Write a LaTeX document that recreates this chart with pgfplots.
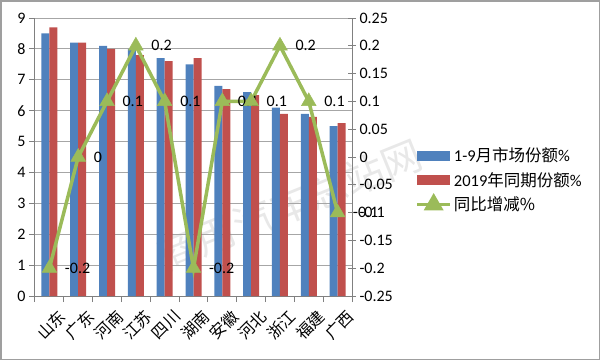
\documentclass[border=0pt]{standalone}
\usepackage{pgfplots}
\pgfplotsset{compat=1.18}
\usepackage{fontspec}
\setmainfont{Carlito}
\newfontfamily\cjk{Noto Sans CJK SC}
\definecolor{cblue}{HTML}{4F81BD}
\definecolor{cred}{HTML}{C0504D}
\definecolor{cgreen}{HTML}{9BBB59}
\begin{document}
\begin{tikzpicture}
\path[use as bounding box] (0pt,0pt) rectangle (600pt,360pt);
\draw[gray!75, line width=1.5pt] (0.75pt,0.75pt) rectangle (599.25pt,359.25pt);
\node[rotate=22, text=gray!18, font=\cjk\fontsize{40}{44}\selectfont] at (290pt,155pt) {商用汽车总站网};
\begin{axis}[
  at={(35pt,64pt)}, anchor=south west, scale only axis,
  width=317pt, height=278pt,
  xmin=-0.5, xmax=10.5, ymin=0, ymax=9,
  ytick={0,1,...,9},
  xtick={-0.5,0.5,...,10.5},
  x tick label as interval,
  xticklabels={山东,广东,河南,江苏,四川,湖南,安徽,河北,浙江,福建,广西},
  xticklabel style={font=\cjk\fontsize{16}{18}\selectfont, rotate=45, anchor=north east, inner sep=1pt, yshift=-9pt, xshift=2pt},
  yticklabel style={font=\fontsize{16}{18}\selectfont},
  /pgf/number format/assume math mode=true,
  axis x line*=bottom, axis y line*=left,
  axis line style={gray, line width=1pt},
  tick style={gray, line width=1pt},
  tick align=outside, major tick length=6pt,
  ymajorgrids, grid style={gray!70, line width=0.9pt},
  ybar=0pt, bar width=8pt,
]
\addplot[fill=cblue, draw=none] coordinates {(0,8.5) (1,8.2) (2,8.1) (3,8.0) (4,7.7) (5,7.5) (6,6.8) (7,6.6) (8,6.1) (9,5.9) (10,5.5)};
\addplot[fill=cred, draw=none] coordinates {(0,8.7) (1,8.2) (2,8.0) (3,7.8) (4,7.6) (5,7.7) (6,6.7) (7,6.5) (8,5.9) (9,5.8) (10,5.6)};
\end{axis}
\begin{axis}[
  at={(35pt,64pt)}, anchor=south west, scale only axis,
  width=317pt, height=278pt,
  xmin=-0.5, xmax=10.5, ymin=-0.25, ymax=0.25,
  axis y line*=right, axis x line=none,
  ytick={-0.25,-0.2,-0.15,-0.1,-0.05,0,0.05,0.1,0.15,0.2,0.25},
  yticklabels={-0.25,-0.2,-0.15,-0.1,-0.05,0,0.05,0.1,0.15,0.2,0.25},
  yticklabel style={font=\fontsize{16}{18}\selectfont},
  axis line style={gray, line width=1pt},
  tick style={gray, line width=1pt},
  tick align=center, major tick length=8pt,
  clip=false,
  legend style={at={(1.19,0.417)}, anchor=west, draw=none, fill=none,
    font=\fontsize{16.5}{18}\selectfont, row sep=5pt, cells={anchor=west}},
]
\addlegendimage{fill=cblue, draw=none, legend image code/.code={\fill[cblue] (0pt,-5pt) rectangle (33pt,5pt);}}
\addlegendentry{1-9{\cjk 月市场份额}\%}
\addlegendimage{fill=cred, draw=none, legend image code/.code={\fill[cred] (0pt,-5pt) rectangle (33pt,5pt);}}
\addlegendentry{2019{\cjk 年同期份额}\%}
\addplot[cgreen, line width=3.5pt, mark=triangle*, mark size=8.5pt,
  mark options={fill=cgreen, draw=cgreen, line width=0.5pt},
  point meta=explicit symbolic,
  nodes near coords, nodes near coords style={anchor=west, xshift=12pt, text=black, font=\fontsize{16}{18}\selectfont},
  legend image code/.code={\draw[cgreen, line width=3.5pt] (0pt,0pt) -- (33pt,0pt); \fill[cgreen] (16.5pt,0pt) ++(90:8pt) -- ++(-120:13.9pt) -- ++(0:13.9pt) -- cycle;}
] coordinates {(0,-0.2) [-0.2] (1,0) [0] (2,0.1) [0.1] (3,0.2) [0.2] (4,0.1) [0.1] (5,-0.2) [-0.2] (6,0.1) [0.1] (7,0.1) [0.1] (8,0.2) [0.2] (9,0.1) [0.1] (10,-0.1) [-0.1]};
\addlegendentry{\cjk 同比增减\%}
\end{axis}
\end{tikzpicture}
\end{document}
